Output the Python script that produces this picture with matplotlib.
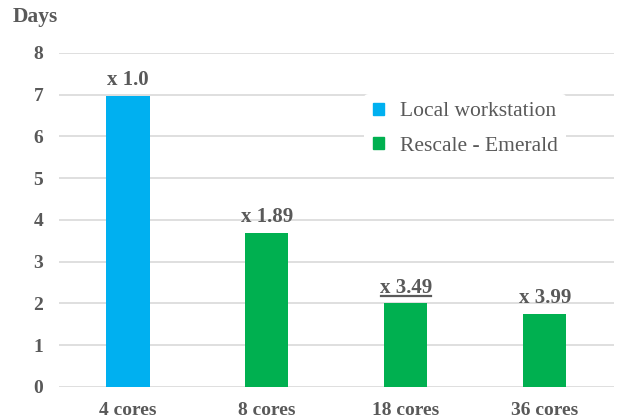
import matplotlib
matplotlib.use("Agg")
import matplotlib.pyplot as plt
from matplotlib.patches import Patch
from matplotlib.lines import Line2D

categories = ["4 cores", "8 cores", "18 cores", "36 cores"]
days = [6.97, 3.69, 2.0, 1.75]
speedup_labels = ["x 1.0", "x 1.89", "x 3.49", "x 3.99"]
series = ["Local workstation", "Rescale - Emerald", "Rescale - Emerald", "Rescale - Emerald"]
yticks = [0, 1, 2, 3, 4, 5, 6, 7, 8]

colors = {"Local workstation": "#00B0F0", "Rescale - Emerald": "#00B050"}
txt = "#595959"
plt.rcParams['font.family'] = ['Liberation Serif', 'DejaVu Serif']

fig = plt.figure(figsize=(6.18, 4.2), dpi=100)
ax = fig.add_axes([0.0947, 0.0786, 0.8993, 0.7954])

x = list(range(len(categories)))
ax.bar(x, days, width=0.31, color=[colors[s] for s in series], zorder=3)
ax.set_xlim(-0.5, 3.5)
ax.set_ylim(0, 8)
ax.set_yticks(yticks)
ax.yaxis.grid(True, color="#D9D9D9", linewidth=1.2, zorder=0)
ax.set_xticks(x)
ax.set_xticklabels(categories)
for s in ax.spines.values():
    s.set_visible(False)
ax.tick_params(axis='both', length=0, labelsize=14, colors=txt)
ax.tick_params(axis='y', pad=11)
ax.tick_params(axis='x', pad=11)
for lab in ax.get_xticklabels() + ax.get_yticklabels():
    lab.set_fontweight('bold')

texts = []
for xi, v, l in zip(x, days, speedup_labels):
    t = ax.annotate(l, (xi, v), xytext=(0, 4), textcoords='offset points',
                    ha='center', va='bottom', fontsize=15, fontweight='bold', color=txt)
    texts.append(t)

fig.text(0.021, 0.96, "Days", fontsize=15.5, fontweight='bold', color=txt, va='center', ha='left')

handles = [Patch(color=colors["Local workstation"]), Patch(color=colors["Rescale - Emerald"])]
leg = ax.legend(handles, ["Local workstation", "Rescale - Emerald"], loc='upper left',
                bbox_to_anchor=(0.531, 0.91), frameon=True, fontsize=15.5,
                handlelength=0.5, handleheight=0.5, handletextpad=0.75, labelspacing=0.72,
                labelcolor=txt)
leg.get_frame().set_facecolor('white')
leg.get_frame().set_edgecolor('none')
leg.get_frame().set_alpha(1)

# underline for the 18-core label, derived from the rendered text extent
fig.canvas.draw()
r = fig.canvas.get_renderer()
bb = texts[2].get_window_extent(r)
inv = fig.transFigure.inverted()
(x0, y0), (x1, _) = inv.transform([(bb.x0 + 1, bb.y0 + 2), (bb.x1 - 1, bb.y0 + 2)])
fig.add_artist(Line2D([x0, x1], [y0, y0], color=txt, linewidth=1.6, transform=fig.transFigure))

fig.savefig("out.png", dpi=100)
